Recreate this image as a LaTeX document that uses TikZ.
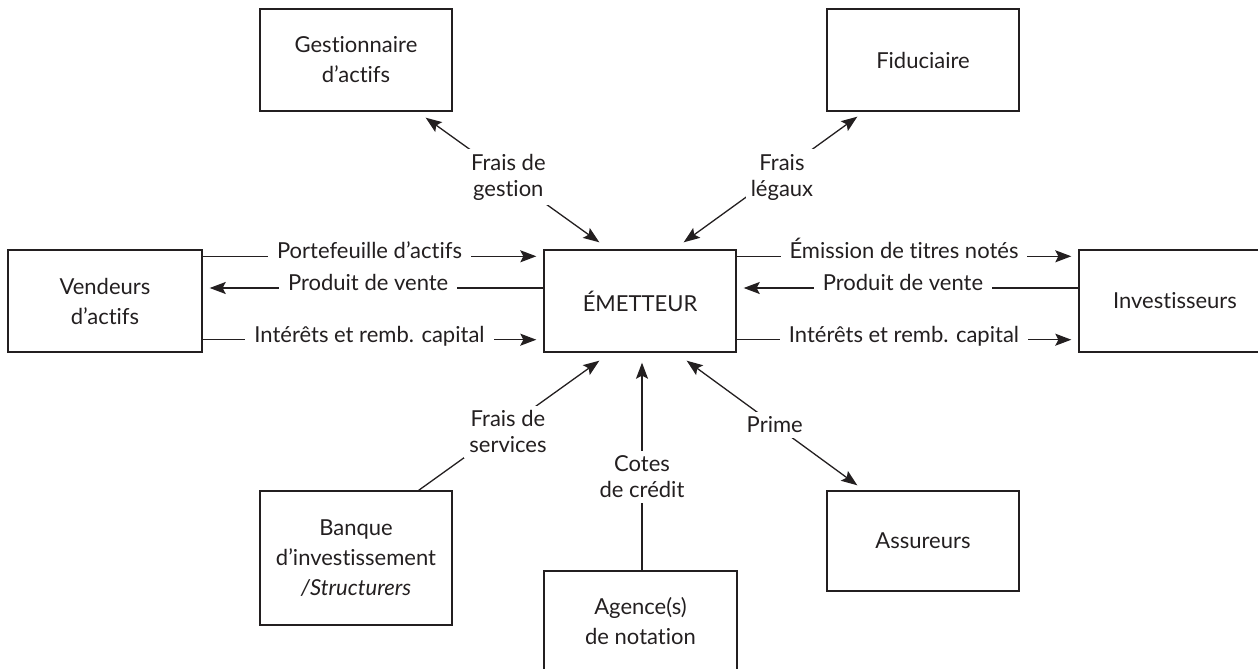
\documentclass[tikz,border=0pt]{standalone}
\usepackage{fontspec}
\setmainfont{Lato}[Ligatures=NoCommon]
\usetikzlibrary{arrows.meta,calc}
\definecolor{ink}{RGB}{35,31,32}
\begin{document}
\begin{tikzpicture}[x=1pt,y=-1pt,
  >={Stealth[length=16pt,width=12pt,inset=3pt]},
  box/.style={draw=ink, line width=1.4pt, minimum width=192pt, minimum height=102pt,
    align=center, inner sep=0pt, text=ink, font=\fontsize{22}{30}\selectfont},
  lab/.style={fill=white, align=center, text=ink, inner sep=5pt,
    font=\fontsize{22}{26}\selectfont},
  hlab/.style={fill=white, text=ink, inner xsep=9pt, inner ysep=1pt,
    text height=.72em, text depth=.22em, font=\fontsize{22}{26}\selectfont},
  conn/.style={draw=ink, line width=1.3pt}]
\useasboundingbox (0,0) rectangle (1258,669);
\clip (0,0) rectangle (1258,669);

% boxes
\node[box] (gest) at (356,60) {Gestionnaire\\d’actifs};
\node[box] (fid) at (923,60) {Fiduciaire};
\node[box, minimum width=194pt] (vend) at (105,301) {Vendeurs\\d’actifs};
\node[box] (emet) at (640,301) {ÉMETTEUR};
\node[box] (inv) at (1175,301) {Investisseurs};
\node[box, minimum height=134pt] (banq) at (356,558) {Banque\\d’investissement\\\textit{/Structurers}};
\node[box, minimum height=100pt] (ass) at (923,541) {Assureurs};
\node[box, minimum height=100pt, minimum width=193pt] (agen) at (640.5,621) {Agence(s)\\de notation};

% horizontal flows
\draw[conn,->] ($(vend.north east)+(0,7)$) -- node[hlab]{Portefeuille d’actifs} ($(emet.north west)+(-7,7)$);
\draw[conn,->] ($(emet.west)+(0,-13)$) -- node[hlab,pos=.525]{Produit de vente} ($(vend.east)+(7,-13)$);
\draw[conn,->] ($(vend.south east)+(0,-13)$) -- node[hlab]{Intérêts et remb. capital} ($(emet.south west)+(-7,-13)$);
\draw[conn,->] ($(emet.north east)+(0,7)$) -- node[hlab]{Émission de titres notés} ($(inv.north west)+(-7,7)$);
\draw[conn,->] ($(inv.west)+(0,-13)$) -- node[hlab,pos=.524]{Produit de vente} ($(emet.east)+(7,-13)$);
\draw[conn,->] ($(emet.south east)+(0,-13)$) -- node[hlab]{Intérêts et remb. capital} ($(inv.south west)+(-7,-13)$);

% diagonal flows
\draw[conn,<->] ($(gest.south east)+(-27,6)$) -- node[lab,pos=.476]{Frais de\\gestion} ($(emet.north west)+(56,-7)$);
\draw[conn,<->] ($(fid.south west)+(31,5)$) -- node[lab,pos=.48,xshift=8pt]{Frais\\légaux} ($(emet.north east)+(-53,-7)$);
\draw[conn,->] ($(banq.north east)+(-34,0)$) -- node[lab,pos=.45,xshift=8pt]{Frais de\\services} ($(emet.south west)+(56,8)$);
\draw[conn,->] ($(agen.north)+(1.5,0)$) -- node[lab,pos=.45]{Cotes\\de crédit} ($(emet.south)+(2,10)$);
\draw[conn,<->] ($(emet.south east)+(-50,8)$) -- node[lab,pos=.516]{Prime} ($(ass.north west)+(31,-5)$);
\end{tikzpicture}
\end{document}
